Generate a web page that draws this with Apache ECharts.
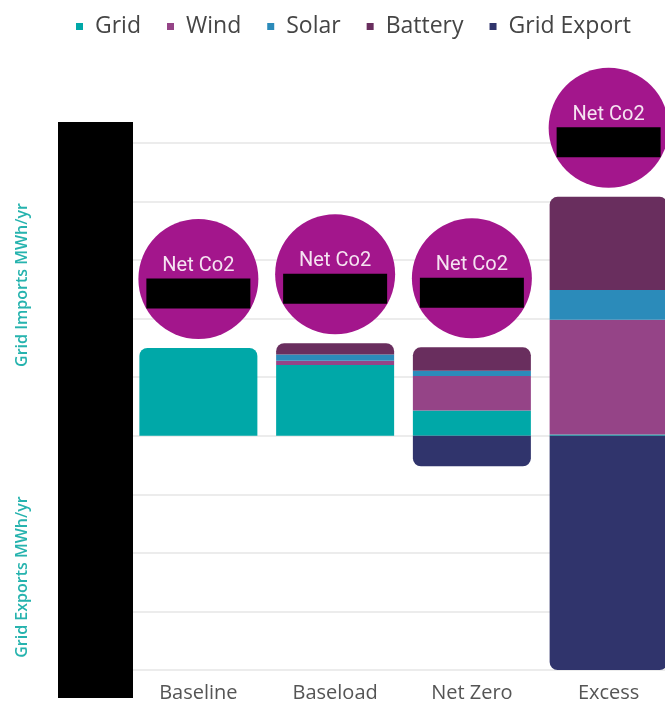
<!DOCTYPE html>
<html>
<head>
<meta charset="utf-8">
<script src="https://cdn.jsdelivr.net/npm/echarts@6/dist/echarts.min.js"></script>
<style>html,body{margin:0;padding:0;background:#fff}#c{width:665px;height:705px}</style>
</head>
<body>
<div id="c"></div>
<script>
const categories = ['Baseline', 'Baseload', 'Net Zero', 'Excess'];
const grid = [1.50, 1.21, 0.43, 0.02];
const wind = [0, 0.07, 0.59, 1.96];
const solar = [0, 0.11, 0.09, 0.51];
const battery = [0, 0.19, 0.40, 1.59];
const gridExport = [0, 0, -0.52, -4.0];
const circleLabel = 'Net Co2';

const colors = {
  Grid: '#00a8a8', Wind: '#954487', Solar: '#2b8bba', Battery: '#692e5e', 'Grid Export': '#30346c'
};
const posSeries = [['Grid', grid], ['Wind', wind], ['Solar', solar], ['Battery', battery]];
const totals = categories.map((_, i) => posSeries.reduce((s, p) => s + p[1][i], 0));
const topIdx = categories.map((_, i) => {
  let t = 0; posSeries.forEach((p, k) => { if (p[1][i] > 0) t = k; }); return t;
});

const series = posSeries.map(([name, arr], k) => ({
  name, type: 'bar', stack: 'total', barWidth: 118,
  itemStyle: { color: colors[name] },
  data: arr.map((v, i) => ({ value: v, itemStyle: { borderRadius: topIdx[i] === k ? [8, 8, 0, 0] : 0 } }))
}));
series.push({
  name: 'Grid Export', type: 'bar', stack: 'total', barWidth: 118,
  itemStyle: { color: colors['Grid Export'] },
  data: gridExport.map(v => ({ value: v, itemStyle: { borderRadius: [0, 0, 8, 8] } }))
});
series.push({
  name: 'co2', type: 'scatter', symbol: 'circle', symbolSize: 120, symbolOffset: [0, -69],
  itemStyle: { color: '#a3168c', opacity: 1 }, z: 10, silent: true,
  label: {
    show: true, position: 'inside', offset: [0, 2],
    formatter: '{a|' + circleLabel + '}\n{b|}',
    rich: {
      a: { color: '#f5e3f1', fontSize: 20, fontFamily: 'Roboto', lineHeight: 25, align: 'center' },
      b: { backgroundColor: '#000', width: 104, height: 30, align: 'center' }
    }
  },
  data: totals
});

const chart = echarts.init(document.getElementById('c'));
chart.setOption({
  animation: false,
  legend: {
    data: ['Grid', 'Wind', 'Solar', 'Battery', 'Grid Export'],
    left: 71, top: 10, icon: 'rect', itemWidth: 7, itemHeight: 7, itemGap: 26,
    textStyle: { fontSize: 23, color: '#454545', fontFamily: 'Open Sans', padding: [0, 0, 0, 7] }
  },
  grid: { left: 130, width: 547, top: 143, height: 527, outerBoundsMode: 'none', containLabel: false },
  xAxis: {
    type: 'category', data: categories,
    axisLine: { show: false }, axisTick: { show: false },
    axisLabel: { fontSize: 20, color: '#555', fontFamily: 'Open Sans', margin: 13 }
  },
  yAxis: {
    type: 'value', min: -4, max: 5, interval: 1,
    axisLabel: { show: false }, axisLine: { show: false }, axisTick: { show: false },
    splitLine: { lineStyle: { color: '#e6e6e6', width: 1.5 } }
  },
  graphic: [
    { type: 'rect', shape: { x: 58, y: 122, width: 75, height: 576 }, style: { fill: '#000' }, z: 100 },
    { type: 'text', x: 22, y: 285, rotation: Math.PI / 2, style: { text: 'Grid Imports MWh/yr', fill: '#26b3ae', font: '600 16px "Open Sans"', textAlign: 'center', textVerticalAlign: 'middle' } },
    { type: 'text', x: 22, y: 577, rotation: Math.PI / 2, style: { text: 'Grid Exports MWh/yr', fill: '#26b3ae', font: '600 16px "Open Sans"', textAlign: 'center', textVerticalAlign: 'middle' } }
  ],
  series
});
</script>
</body>
</html>
